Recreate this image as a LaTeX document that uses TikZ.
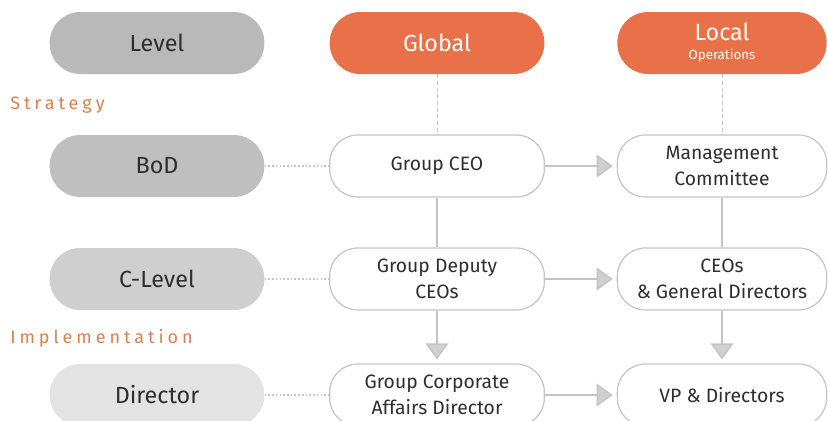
\documentclass[tikz,border=0pt]{standalone}
\usepackage{fontspec}
\setmainfont{Fira Sans}
\usetikzlibrary{arrows.meta}
\definecolor{orng}{HTML}{E8714A}
\definecolor{lblorng}{HTML}{D9804F}
\definecolor{linegray}{HTML}{C4C4C4}
\definecolor{txtgray}{HTML}{2E2E2E}
\tikzset{
  pill/.style={rounded corners=23pt, minimum width=161pt, minimum height=46.5pt,
    inner sep=0pt, align=center, text=txtgray, font=\fontsize{17.5}{20}\selectfont},
  headpill/.style={pill, fill=orng, text=white},
  unitbox/.style={draw=linegray, line width=0.9pt, fill=white, rounded corners=21pt,
    minimum width=161pt, minimum height=46.5pt, inner sep=0pt, align=center,
    text=txtgray, font=\fontsize{14.5}{19.5}\selectfont},
  stagelabel/.style={anchor=west, inner sep=0pt, text=lblorng,
    font=\fontsize{13.5}{15}\selectfont\addfontfeature{LetterSpace=22}},
  flow/.style={draw=linegray, line width=1.1pt,
    -{Triangle[length=12pt,width=17pt,fill=linegray!80]}, shorten >=3pt},
  link/.style={draw=linegray, line width=0.8pt},
  guide/.style={draw=linegray, line width=0.7pt, dash pattern=on 3pt off 2pt},
  rowdots/.style={draw=linegray, line width=1pt, dash pattern=on 1.2pt off 1.6pt}
}
\begin{document}
\begin{tikzpicture}[x=0.75pt,y=-0.75pt]
  \useasboundingbox (0,0) rectangle (828,421);
  % header row
  \node[pill, fill=gray!55] (level) at (157,43) {Level};
  \node[headpill] (global) at (437,43) {Global};
  \node[headpill, minimum width=157pt] (local) at (722,43)
    {Local\\[-6pt]{\fontsize{10}{11}\selectfont Operations}};
  \node[stagelabel] (strat) at (10,105) {Strategy};
  % rows
  \node[pill, fill=gray!50] (bod) at (157,166) {BoD};
  \node[unitbox] (ceo) at (437,166) {Group CEO};
  \node[unitbox, minimum width=157pt] (mgmt) at (722,166) {Management\\Committee};
  \node[pill, fill=gray!38] (clevel) at (157,279) {C-Level};
  \node[unitbox] (deputy) at (437,279) {Group Deputy\\CEOs};
  \node[unitbox, minimum width=157pt] (gendir) at (722,279) {CEOs\\\& General Directors};
  \node[stagelabel] (impl) at (10,338) {Implementation};
  \node[pill, fill=gray!22] (director) at (157,395) {Director};
  \node[unitbox] (affairs) at (437,395) {Group Corporate\\Affairs Director};
  \node[unitbox, minimum width=157pt] (vp) at (722,395) {VP \& Directors};
  % connectors
  \draw[guide] (global) -- (ceo);
  \draw[guide] (local) -- (mgmt);
  \draw[rowdots] (bod) -- (ceo);
  \draw[rowdots] (clevel) -- (deputy);
  \draw[rowdots] (director) -- (affairs);
  \draw[link] (ceo) -- (deputy);
  \draw[link] (mgmt) -- (gendir);
  \begin{scope}[flow]
    \draw (ceo) -- (mgmt);
    \draw (deputy) -- (gendir);
    \draw (affairs) -- (vp);
    \draw (deputy) -- (affairs);
    \draw (gendir) -- (vp);
  \end{scope}
\end{tikzpicture}
\end{document}
